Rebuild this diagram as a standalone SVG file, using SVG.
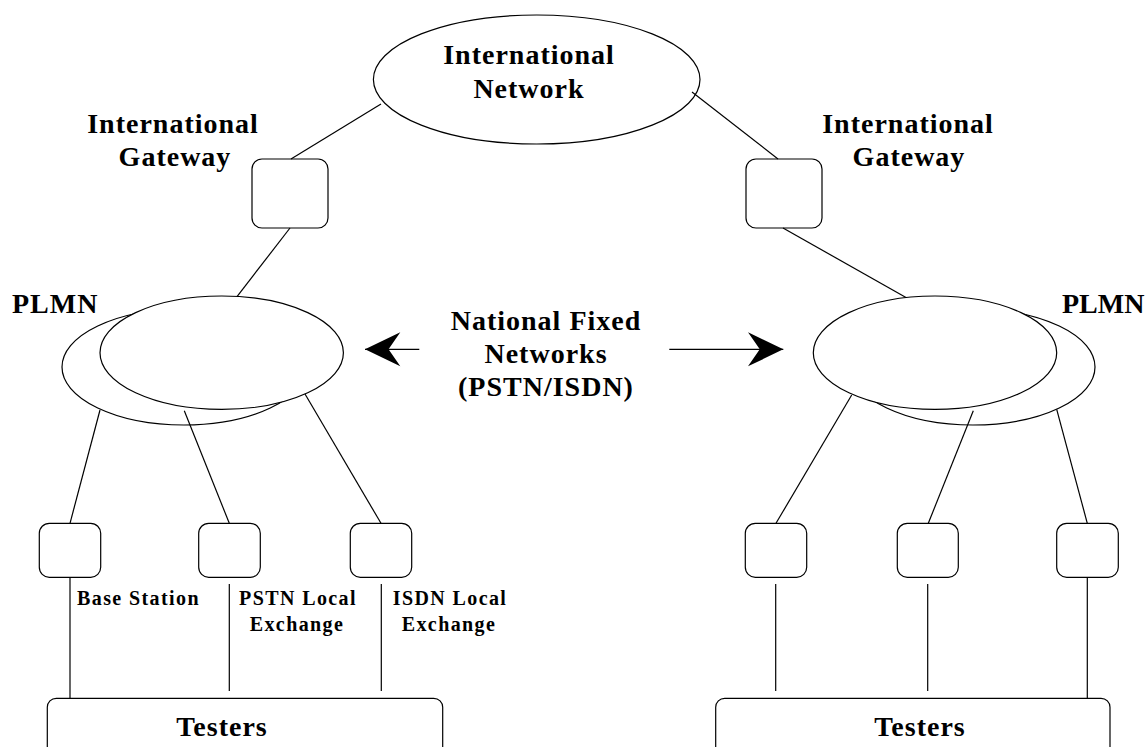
<svg xmlns="http://www.w3.org/2000/svg" width="1147" height="747" viewBox="0 0 1147 747">
<style>
.sh{fill:#fff;stroke:#000;stroke-width:1.2}
.ln{fill:none;stroke:#000;stroke-width:1.2}
.big{font-family:"Liberation Serif","Times New Roman",serif;font-weight:bold;font-size:28px;letter-spacing:1px;fill:#000}
.sm{font-family:"Liberation Serif","Times New Roman",serif;font-weight:bold;font-size:20px;letter-spacing:1.4px;fill:#000}
.mid{text-anchor:middle}
</style>
<defs>
<marker id="ah" markerUnits="userSpaceOnUse" markerWidth="40" markerHeight="40" viewBox="-32 -16 34 32" refX="0" refY="0" orient="auto">
<path d="M0,0 L-30,-14.5 L-20,0 L-30,14.5 Z" fill="#000"/>
</marker>
</defs>
<rect width="1147" height="747" fill="#fff"/>

<g id="intl-network">
<ellipse class="sh" cx="536.7" cy="79.5" rx="163.3" ry="64.5"/>
<text class="big mid" x="529" y="64">International</text>
<text class="big mid" x="529" y="97.5">Network</text>
</g>

<g id="gateway-left">
<rect class="sh" x="252" y="159" width="76" height="69" rx="10"/>
<text class="big mid" x="173" y="133">International</text>
<text class="big mid" x="175" y="166">Gateway</text>
</g>

<g id="gateway-right">
<rect class="sh" x="746" y="159" width="76" height="69" rx="10"/>
<text class="big mid" x="908" y="133">International</text>
<text class="big mid" x="909" y="166">Gateway</text>
</g>

<g id="plmn-left">
<ellipse class="sh" cx="184" cy="367" rx="122" ry="58"/>
<ellipse class="sh" cx="221.7" cy="352.7" rx="121.7" ry="56.7"/>
<text class="big" x="12" y="313">PLMN</text>
</g>

<g id="plmn-right">
<ellipse class="sh" cx="973" cy="367" rx="122" ry="58"/>
<ellipse class="sh" cx="935" cy="352.7" rx="121.7" ry="56.7"/>
<text class="big" x="1062" y="313" style="letter-spacing:0">PLMN</text>
</g>

<g id="national-fixed">
<text class="big mid" x="546" y="330">National Fixed</text>
<text class="big mid" x="546" y="363">Networks</text>
<text class="big mid" x="546" y="396">(PSTN/ISDN)</text>
</g>

<g id="base-station-left">
<rect class="sh" x="39.3" y="523.3" width="61.4" height="54" rx="10"/>
<text class="sm" x="77" y="605">Base Station</text>
</g>
<g id="pstn-left">
<rect class="sh" x="198.7" y="523.3" width="61.6" height="54" rx="10"/>
<text class="sm mid" x="298" y="605">PSTN Local</text>
<text class="sm mid" x="297" y="631">Exchange</text>
</g>
<g id="isdn-left">
<rect class="sh" x="350.3" y="523.3" width="61.4" height="54" rx="10"/>
<text class="sm mid" x="450" y="605">ISDN Local</text>
<text class="sm mid" x="449" y="631">Exchange</text>
</g>

<g id="box-right-1">
<rect class="sh" x="745.3" y="523.3" width="61.4" height="54" rx="10"/>
</g>
<g id="box-right-2">
<rect class="sh" x="897.3" y="523.3" width="61" height="54" rx="10"/>
</g>
<g id="box-right-3">
<rect class="sh" x="1056.7" y="523.3" width="61.6" height="54" rx="10"/>
</g>

<g id="testers-left">
<rect class="sh" x="47.3" y="698.3" width="395.4" height="70" rx="9"/>
<text class="big mid" x="222" y="736">Testers</text>
</g>
<g id="testers-right">
<rect class="sh" x="715.7" y="698.3" width="394.3" height="70" rx="9"/>
<text class="big mid" x="920" y="736">Testers</text>
</g>

<g id="connectors">
<line class="ln" x1="381" y1="104" x2="291" y2="159"/>
<line class="ln" x1="692" y1="92" x2="778" y2="159"/>
<line class="ln" x1="290" y1="228" x2="237" y2="296.6"/>
<line class="ln" x1="783" y1="228" x2="906" y2="297.5"/>
<line class="ln" x1="100" y1="410" x2="70" y2="523.3"/>
<line class="ln" x1="184.3" y1="410.7" x2="229.3" y2="523.3"/>
<line class="ln" x1="305" y1="394" x2="381" y2="523.3"/>
<line class="ln" x1="851.7" y1="395" x2="776" y2="523.3"/>
<line class="ln" x1="973.3" y1="410.7" x2="928.3" y2="523.3"/>
<line class="ln" x1="1056.7" y1="409.3" x2="1087.3" y2="523.3"/>
<line class="ln" x1="70" y1="577.3" x2="70" y2="698.3"/>
<line class="ln" x1="229.3" y1="584" x2="229.3" y2="691"/>
<line class="ln" x1="381.3" y1="584" x2="381.3" y2="691"/>
<line class="ln" x1="775.7" y1="584" x2="775.7" y2="691"/>
<line class="ln" x1="927.7" y1="584" x2="927.7" y2="691"/>
<line class="ln" x1="1087.3" y1="577.3" x2="1087.3" y2="698.3"/>
<line class="ln" x1="419.3" y1="349.3" x2="365" y2="349.3" marker-end="url(#ah)"/>
<line class="ln" x1="669.3" y1="349.3" x2="783.3" y2="349.3" marker-end="url(#ah)"/>
</g>
</svg>
